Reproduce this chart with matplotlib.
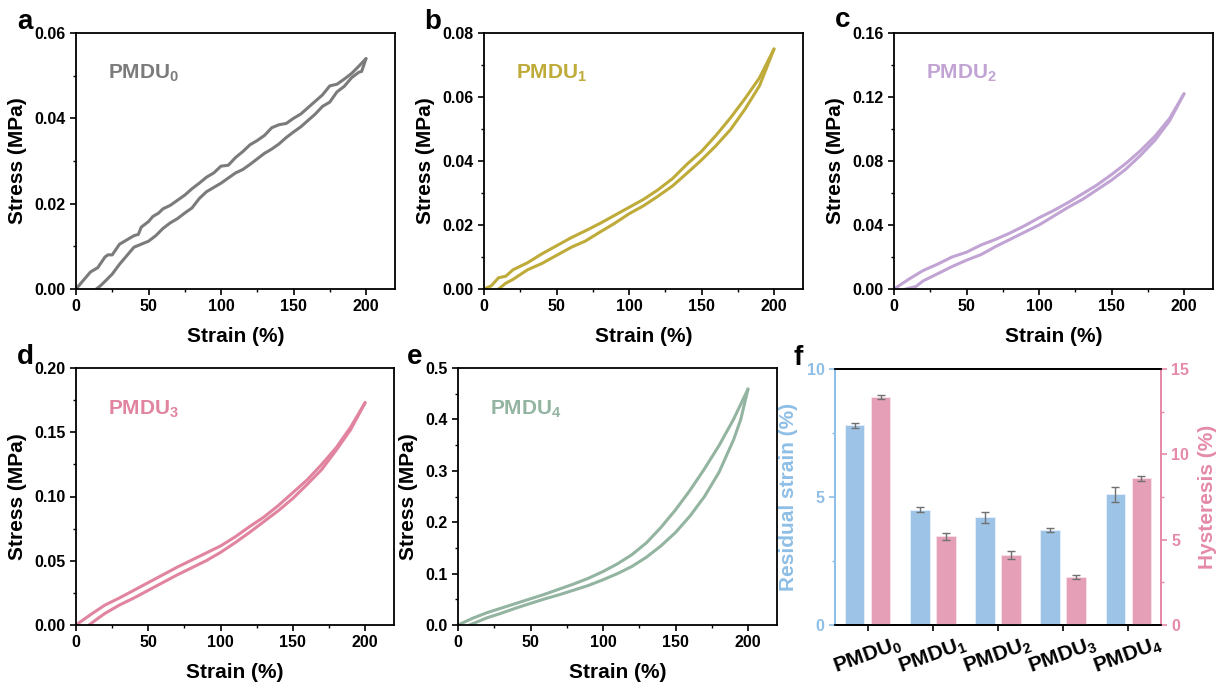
import matplotlib
matplotlib.use("Agg")
import matplotlib.pyplot as plt
from matplotlib.ticker import MultipleLocator

plt.rcParams["font.family"] = ["Liberation Sans", "DejaVu Sans"]
plt.rcParams["font.weight"] = "bold"
plt.rcParams["mathtext.fontset"] = "custom"
plt.rcParams["mathtext.bf"] = "Liberation Sans:bold"
plt.rcParams["mathtext.rm"] = "Liberation Sans:bold"
plt.rcParams["mathtext.it"] = "Liberation Sans:bold"

# ---------------- data ----------------
samples = ["PMDU$_\\mathbf{0}$", "PMDU$_\\mathbf{1}$", "PMDU$_\\mathbf{2}$",
           "PMDU$_\\mathbf{3}$", "PMDU$_\\mathbf{4}$"]

# PMDU0 loading / unloading
a_load_x = [0, 5, 10, 15, 20, 22, 25, 30, 35, 40, 43, 45, 50, 53, 57, 60, 65, 70, 75, 80, 85, 90,
            95, 100, 105, 110, 115, 120, 125, 130, 135, 140, 145, 150, 155, 160, 165, 170, 175,
            180, 185, 190, 195, 200]
a_load_y = [0.0, 0.002, 0.004, 0.005, 0.0075, 0.008, 0.008, 0.0105, 0.0115, 0.0125, 0.0128,
            0.0145, 0.0158, 0.017, 0.0178, 0.0188, 0.0196, 0.0208, 0.022, 0.0235, 0.0248,
            0.0262, 0.0272, 0.0288, 0.029, 0.0308, 0.0322, 0.0338, 0.0348, 0.036, 0.0378,
            0.0385, 0.0388, 0.04, 0.041, 0.0425, 0.044, 0.0455, 0.0476, 0.048, 0.0492,
            0.0505, 0.0522, 0.054]
a_unload_x = [200, 197, 195, 190, 185, 180, 175, 170, 165, 160, 155, 150, 145, 140, 135, 130,
              125, 120, 115, 110, 105, 100, 95, 90, 85, 80, 75, 70, 65, 60, 55, 50, 45, 40,
              35, 30, 25, 20, 17, 14]
a_unload_y = [0.054, 0.051, 0.0508, 0.0495, 0.0475, 0.0462, 0.0438, 0.0428, 0.041, 0.0395,
              0.038, 0.0368, 0.0355, 0.034, 0.0328, 0.0318, 0.0305, 0.0292, 0.028, 0.0272,
              0.026, 0.0248, 0.0238, 0.0228, 0.0212, 0.019, 0.0178, 0.0165, 0.0155, 0.0142,
              0.0125, 0.0112, 0.0105, 0.0098, 0.0078, 0.0058, 0.0035, 0.0018, 0.0008, 0.0]

# PMDU1
b_load_x = [0, 5, 10, 15, 20, 30, 40, 50, 60, 70, 80, 90, 100, 110, 120, 130, 140, 150, 160,
            170, 180, 190, 200]
b_load_y = [0.0, 0.001, 0.0035, 0.004, 0.006, 0.0082, 0.011, 0.0135, 0.016, 0.0182, 0.0205,
            0.023, 0.0255, 0.028, 0.031, 0.0345, 0.039, 0.043, 0.048, 0.0535, 0.0595,
            0.066, 0.075]
b_unload_x = [200, 190, 180, 170, 160, 150, 140, 130, 120, 110, 100, 90, 80, 70, 60, 50, 40,
              30, 20, 15, 10]
b_unload_y = [0.075, 0.0635, 0.0562, 0.0498, 0.0448, 0.0403, 0.0362, 0.0322, 0.029, 0.026,
              0.0235, 0.0205, 0.0178, 0.015, 0.013, 0.0105, 0.008, 0.006, 0.003, 0.0018, 0.0]

# PMDU2
c_load_x = [0, 10, 20, 30, 40, 50, 60, 70, 80, 90, 100, 110, 120, 130, 140, 150, 160, 170,
            180, 190, 200]
c_load_y = [0.0, 0.006, 0.0115, 0.0155, 0.020, 0.023, 0.0275, 0.031, 0.035, 0.0395, 0.0445,
            0.049, 0.054, 0.0595, 0.065, 0.0715, 0.0785, 0.0865, 0.0955, 0.1065, 0.122]
c_unload_x = [200, 190, 180, 170, 160, 150, 140, 130, 120, 110, 100, 90, 80, 70, 60, 50, 40,
              30, 20, 15, 8]
c_unload_y = [0.122, 0.105, 0.093, 0.0835, 0.075, 0.068, 0.062, 0.056, 0.051, 0.0455, 0.040,
              0.0355, 0.031, 0.0265, 0.0215, 0.018, 0.014, 0.0095, 0.005, 0.0015, 0.0]

# PMDU3
d_load_x = [0, 10, 20, 30, 40, 50, 60, 70, 80, 90, 100, 110, 120, 130, 140, 150, 160, 170,
            180, 190, 200]
d_load_y = [0.0, 0.008, 0.0155, 0.021, 0.027, 0.033, 0.039, 0.045, 0.0505, 0.056, 0.0615,
            0.0685, 0.0765, 0.084, 0.093, 0.103, 0.113, 0.125, 0.138, 0.154, 0.173]
d_unload_x = [200, 190, 180, 170, 160, 150, 140, 130, 120, 110, 100, 90, 80, 70, 60, 50, 40,
              30, 20, 15, 9]
d_unload_y = [0.173, 0.152, 0.136, 0.121, 0.1095, 0.0985, 0.089, 0.0805, 0.072, 0.064, 0.0565,
              0.050, 0.0445, 0.039, 0.033, 0.027, 0.021, 0.0155, 0.009, 0.005, 0.0]

# PMDU4
e_load_x = [0, 10, 20, 30, 40, 50, 60, 70, 80, 90, 100, 110, 120, 130, 140, 150, 160, 170,
            180, 190, 200]
e_load_y = [0.0, 0.013, 0.024, 0.033, 0.042, 0.051, 0.060, 0.070, 0.080, 0.091, 0.104, 0.119,
            0.137, 0.160, 0.190, 0.224, 0.262, 0.304, 0.349, 0.400, 0.459]
e_unload_x = [200, 195, 190, 180, 170, 160, 150, 140, 130, 120, 110, 100, 90, 80, 70, 60, 50,
              40, 30, 20, 8]
e_unload_y = [0.459, 0.400, 0.360, 0.297, 0.250, 0.212, 0.180, 0.154, 0.132, 0.114, 0.100,
              0.088, 0.077, 0.068, 0.059, 0.051, 0.042, 0.033, 0.023, 0.014, 0.0]

# Residual strain and hysteresis summary
residual_strain = [7.8, 4.5, 4.2, 3.7, 5.1]
residual_err = [0.1, 0.1, 0.2, 0.07, 0.3]
hysteresis = [13.35, 5.2, 4.1, 2.8, 8.6]
hysteresis_err = [0.12, 0.2, 0.25, 0.12, 0.15]

# ---------------- layout ----------------
W, H = 1225, 687
fig = plt.figure(figsize=(W / 100, H / 100), dpi=100)


def rect(x0, y0, x1, y1):
    return [x0 / W, 1 - y1 / H, (x1 - x0) / W, (y1 - y0) / H]


TICK_FS = 11.5
LABEL_FS = 15


def style_axes(ax, ymax, ymajor):
    for s in ax.spines.values():
        s.set_linewidth(1.3)
    ax.set_xlim(0, 220)
    ax.set_ylim(0, ymax)
    ax.xaxis.set_major_locator(MultipleLocator(50))
    ax.xaxis.set_minor_locator(MultipleLocator(25))
    ax.yaxis.set_major_locator(MultipleLocator(ymajor))
    ax.yaxis.set_minor_locator(MultipleLocator(ymajor / 2))
    ax.tick_params(which="major", length=4, width=1.2, labelsize=TICK_FS)
    ax.tick_params(which="minor", length=2.5, width=1.0)
    for lab in ax.get_xticklabels() + ax.get_yticklabels():
        lab.set_fontweight("bold")
    ax.set_xlabel("Strain (%)", fontsize=LABEL_FS, fontweight="bold", labelpad=9)
    ax.set_ylabel("Stress (MPa)", fontsize=LABEL_FS, fontweight="bold", labelpad=5)


panels = [
    ("a", (76, 33, 395, 289), a_load_x, a_load_y, a_unload_x, a_unload_y, "#7b7b7b", 0.06, 0.02, 0),
    ("b", (484, 33, 803, 289), b_load_x, b_load_y, b_unload_x, b_unload_y, "#bfab3a", 0.08, 0.02, 1),
    ("c", (894, 33, 1213, 289), c_load_x, c_load_y, c_unload_x, c_unload_y, "#c2a4d4", 0.16, 0.04, 2),
    ("d", (76, 368, 394, 625), d_load_x, d_load_y, d_unload_x, d_unload_y, "#e1849f", 0.20, 0.05, 3),
    ("e", (458, 368, 777, 625), e_load_x, e_load_y, e_unload_x, e_unload_y, "#93b4a0", 0.5, 0.1, 4),
]

letter_pos = {"a": (25, 22), "b": (433, 22), "c": (843, 20), "d": (25, 357), "e": (415, 357),
              "f": (798, 358)}

for letter, box, lx, ly, ux, uy, col, ymax, ymaj, idx in panels:
    ax = fig.add_axes(rect(*box))
    ax.plot(lx, ly, color=col, lw=2.2, solid_capstyle="round", solid_joinstyle="round")
    ax.plot(ux, uy, color=col, lw=2.2, solid_capstyle="round", solid_joinstyle="round")
    style_axes(ax, ymax, ymaj)
    ax.text(0.10, 0.82, samples[idx], transform=ax.transAxes, color=col,
            fontsize=15, fontweight="bold", va="baseline", ha="left")

# ---------------- panel f ----------------
blue_bar = "#9dc4e6"
pink_bar = "#e5a0b7"
blue_ax = "#8fbfe6"
pink_ax = "#e58aa9"

axf = fig.add_axes(rect(835, 369, 1161, 625))
axr = axf.twinx()
xs = list(range(len(samples)))
axf.bar([x - 0.2 for x in xs], residual_strain, width=0.3, color=blue_bar,
        edgecolor="#e8f1fa", linewidth=0.6, zorder=2)
axf.errorbar([x - 0.2 for x in xs], residual_strain, yerr=residual_err, fmt="none",
             ecolor="#707070", elinewidth=1.0, capsize=3, capthick=1.0, zorder=3)
axr.bar([x + 0.2 for x in xs], hysteresis, width=0.3, color=pink_bar,
        edgecolor="#f7e3ea", linewidth=0.6, zorder=2)
axr.errorbar([x + 0.2 for x in xs], hysteresis, yerr=hysteresis_err, fmt="none",
             ecolor="#707070", elinewidth=1.0, capsize=3, capthick=1.0, zorder=3)

axf.set_xlim(-0.5, 4.5)
axf.set_ylim(0, 10)
axr.set_ylim(0, 15)
axf.yaxis.set_major_locator(MultipleLocator(5))
axf.yaxis.set_minor_locator(MultipleLocator(2.5))
axr.yaxis.set_major_locator(MultipleLocator(5))
axr.yaxis.set_minor_locator(MultipleLocator(2.5))
axf.set_xticks(xs)
axf.set_xticklabels(samples, rotation=20, fontsize=15, fontweight="bold",
                    ha="center", va="top")
axf.tick_params(axis="x", length=4, width=1.2, pad=2)

for ax_ in (axf, axr):
    for s in ax_.spines.values():
        s.set_linewidth(1.3)
    ax_.spines["top"].set_color("black")
    ax_.spines["bottom"].set_color("black")
    ax_.spines["left"].set_color(blue_ax)
    ax_.spines["right"].set_color(pink_ax)

axf.tick_params(axis="y", which="major", colors=blue_ax, length=4, width=1.2, labelsize=TICK_FS)
axf.tick_params(axis="y", which="minor", colors=blue_ax, length=2.5, width=1.0)
axr.tick_params(axis="y", which="major", colors=pink_ax, length=4, width=1.2, labelsize=TICK_FS)
axr.tick_params(axis="y", which="minor", colors=pink_ax, length=2.5, width=1.0)
for lab in axf.get_yticklabels() + axr.get_yticklabels():
    lab.set_fontweight("bold")

axf.set_ylabel("Residual strain (%)", color=blue_ax, fontsize=LABEL_FS, fontweight="bold",
               labelpad=6)
axr.set_ylabel("Hysteresis (%)", color=pink_ax, fontsize=LABEL_FS, fontweight="bold",
               labelpad=6)

for letter, (px, py) in letter_pos.items():
    fig.text(px / W, 1 - py / H, letter, fontsize=20, fontweight="bold",
             ha="center", va="center")

fig.savefig("out.png", dpi=100)
